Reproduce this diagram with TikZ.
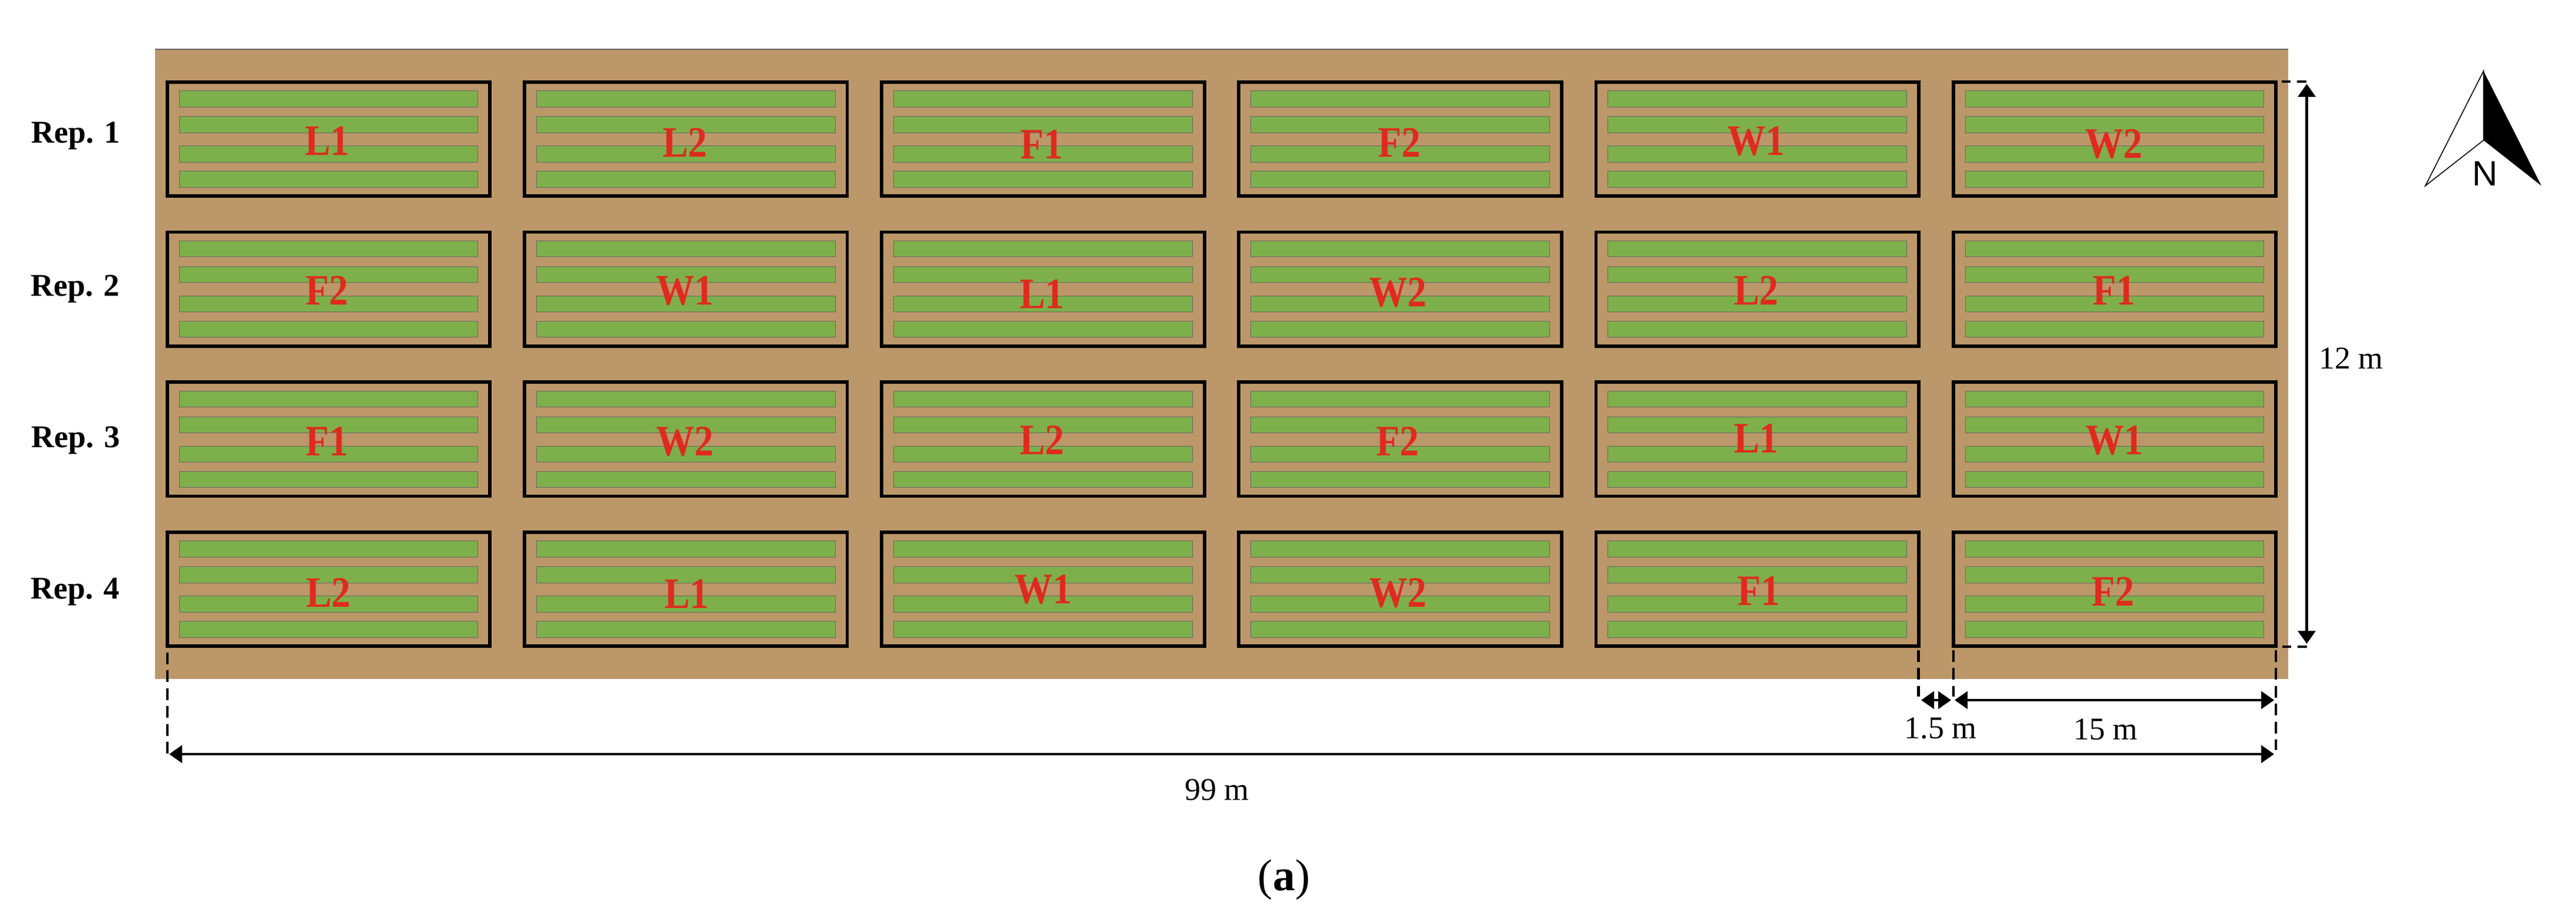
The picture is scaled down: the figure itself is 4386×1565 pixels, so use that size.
\documentclass[tikz,border=0pt]{standalone}
\usepackage{fontspec}
\setmainfont{Liberation Serif}
\newfontfamily\compassfont{Liberation Sans}
\usetikzlibrary{arrows.meta}
\definecolor{soil}{HTML}{BC9769}
\definecolor{crop}{HTML}{7DB04A}
\definecolor{edgegrey}{HTML}{666666}
\definecolor{labelred}{HTML}{DF2A1E}
\newcommand{\narrowlabel}[1]{\scalebox{0.88}[1]{#1}}
\tikzset{
  plot/.style={draw=black,line width=1.45pt,fill=soil,minimum width=137.4pt,minimum height=48.6pt,inner sep=0pt,outer sep=0pt},
  strip/.style={draw=edgegrey,line width=0.25pt,fill=crop,minimum width=127.2pt,minimum height=6.8pt,inner sep=0pt,outer sep=0pt},
  code/.style={text=labelred,font=\fontsize{18.5}{18.5}\selectfont\bfseries,inner sep=0pt,text height=12.4pt,text depth=0pt},
  rep/.style={font=\fontsize{13.5}{13.5}\selectfont\bfseries,inner sep=0pt,anchor=base},
  dim/.style={font=\fontsize{13.5}{13.5}\selectfont,inner sep=0pt,anchor=base},
  dimline/.style={line width=1.15pt,{Triangle[length=5.5pt,width=7.4pt]}-{Triangle[length=5.5pt,width=7.4pt]}},
  guide/.style={line width=1.05pt,dash pattern=on 5pt off 2.6pt},
  shortguide/.style={line width=1.15pt,dash pattern=on 3.8pt off 2.8pt}
}
\begin{document}
\begin{tikzpicture}[x=0.25pt,y=-0.25pt]
\useasboundingbox (0,0) rectangle (4386,1565);
% field
\node[fill=soil,minimum width=908pt,minimum height=268.25pt,inner sep=0pt,outer sep=0pt,anchor=north west] (field) at (264,84) {};
\draw[edgegrey,line width=0.3pt] (field.north west) -- (field.north east);
% plots with their four crop strips
\foreach \r/\top in {1/137,2/392.7,3/648.3,4/904}{
  \foreach \c/\lft in {1/282,2/890.2,3/1498.4,4/2106.6,5/2714.8,6/3323}{
    \node[plot] (p\r\c) at ({\lft+277.5},{\top+100}) {};
    \foreach \s/\o in {1/31.5,2/75.5,3/125.5,4/168.5}{
      \node[strip] (s\r\c\s) at ({\lft+277.5},{\top+\o}) {};
    }
  }
}
% treatment labels
\foreach \n/\t/\x/\y in {
  a/L1/557/240,b/L2/1166/243,c/F1/1774/246,d/F2/2383/243,e/W1/2990/240,f/W2/3599/245,
  g/F2/557/495,h/W1/1166/495,i/L1/1774/501,j/W2/2380/498,k/L2/2990/495,l/F1/3600/495,
  m/F1/557/752,n/W2/1166/752,o/L2/1774/750,p/F2/2380/752,q/L1/2990/747,s/W1/3600/750,
  t/L2/559/1010,u/L1/1169/1012,v/W1/1776/1004,w/W2/2380/1010,x/F1/2995/1007,y/F2/3598/1008}{
  \node[code] (lab\n) at (\x,\y) {\narrowlabel{\t}};
}
% replicate labels
\node[rep] (rep1) at (129,243) {Rep. 1};
\node[rep] (rep2) at (128,504) {Rep. 2};
\node[rep] (rep3) at (129,762) {Rep. 3};
\node[rep] (rep4) at (128,1020) {Rep. 4};
% dimension anchors
\coordinate (vtop) at (3927.5,143);
\coordinate (vbot) at (3927.5,1097);
\coordinate (gtopa) at (3885,139);
\coordinate (gtopb) at (3932,139);
\coordinate (gbota) at (3886,1102);
\coordinate (gbotb) at (3931,1102);
\coordinate (ga1) at (284.7,1112);
\coordinate (ga2) at (284.7,1286);
\coordinate (gb1) at (3266.5,1108);
\coordinate (gb2) at (3266.5,1187);
\coordinate (gc1) at (3326,1108);
\coordinate (gc2) at (3326,1187);
\coordinate (gd1) at (3875,1108);
\coordinate (gd2) at (3875,1278);
\coordinate (aL) at (3271,1193);
\coordinate (aM) at (3322,1193);
\coordinate (bL) at (3328,1193);
\coordinate (bR) at (3872,1193);
\coordinate (cL) at (288,1285);
\coordinate (cR) at (3872,1285);
% guides
\draw[shortguide] (gtopa) -- (gtopb);
\draw[shortguide] (gbota) -- (gbotb);
\draw[guide] (ga1) -- (ga2);
\draw[guide] (gb1) -- (gb2);
\draw[guide] (gc1) -- (gc2);
\draw[guide] (gd1) -- (gd2);
% dimension arrows
\draw[dimline] (vtop) -- (vbot);
\draw[dimline] (aL) -- (aM);
\draw[dimline] (bL) -- (bR);
\draw[dimline] (cL) -- (cR);
% dimension labels
\node[dim] (d12) at (4003,628) {12 m};
\node[dim] (d15a) at (3304,1258) {1.5 m};
\node[dim] (d15b) at (3585,1260) {15 m};
\node[dim] (d99) at (2072,1363) {99 m};
% north arrow
\coordinate (napex) at (4228.5,121);
\coordinate (nnotch) at (4228.5,239);
\coordinate (nleft) at (4129.5,316.5);
\coordinate (nright) at (4327,316.5);
\draw[line width=0.4pt,fill=white,line join=miter] (napex) -- (nleft) -- (nnotch) -- cycle;
\fill[black] (napex) -- (nright) -- (nnotch) -- cycle;
\node[font=\fontsize{15}{15}\selectfont\compassfont,inner sep=0pt,anchor=base] (north) at (4231,316) {N};
% caption
\node[font=\fontsize{19}{19}\selectfont,inner sep=0pt,anchor=base] (caption) at (2186,1517) {(\textbf{a})};
\end{tikzpicture}
\end{document}
